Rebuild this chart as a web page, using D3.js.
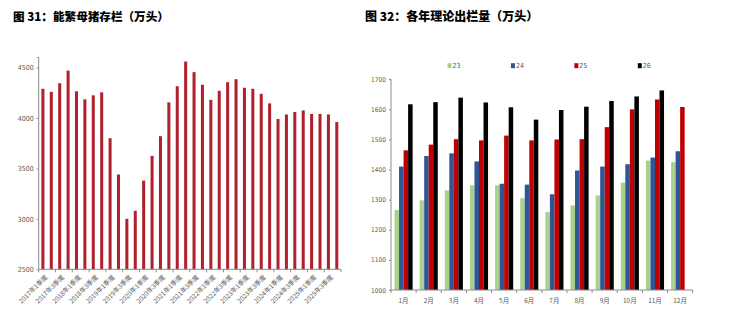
<!DOCTYPE html>
<html><head><meta charset="utf-8">
<script src="https://cdn.jsdelivr.net/npm/d3@7"></script>
<style>body{margin:0;background:#fff}svg{display:block}</style>
</head><body>
<svg id="c" width="743" height="314"></svg>
<script>
// ---------- data: chart 31 ----------
const quarters = [];
[2017,2018,2019,2020,2021,2022,2023,2024,2025].forEach(y=>[1,2,3,4].forEach(q=>quarters.push(y+"年"+q+"季度")));
const sowStock = [4290,4260,4345,4470,4265,4185,4225,4255,3800,3440,3000,3080,3380,3625,3820,4155,4315,4560,
  4455,4330,4180,4270,4355,4385,4300,4290,4240,4145,3990,4035,4060,4075,4040,4040,4035,3960];
const leftTicks = [2500,3000,3500,4000,4500];

// ---------- data: chart 32 ----------
const months = ["1月","2月","3月","4月","5月","6月","7月","8月","9月","10月","11月","12月"];
const seriesNames = ["23","24","25","26"];
const s23 = [1266,1298,1331,1348,1348,1305,1259,1281,1314,1357,1430,1425];
const s24 = [1410,1445,1454,1427,1353,1350,1318,1397,1410,1418,1440,1461];
const s25 = [1464,1483,1501,1497,1513,1497,1500,1501,1541,1600,1633,1608];
const s26 = [1617,1624,1639,1623,1607,1566,1598,1609,1628,1643,1663,null];
const rightTicks = [1000,1100,1200,1300,1400,1500,1600,1700];
const colors = ["#A9D18E","#2F5597","#C00000","#000000"];

const svg = d3.select("#c");
const axisFont = "'Liberation Sans Narrow','DejaVu Sans Condensed','Liberation Sans',sans-serif";
const titleFont = "'Noto Sans CJK SC','Noto Sans',sans-serif";
const axisCol = "#8c8c8c", textCol = "#595959";

// titles
svg.append("text").attr("x",13).attr("y",21).text("图 31：能繁母猪存栏（万头）")
  .attr("font-family",titleFont).attr("font-weight",900).attr("font-size",11.6).attr("fill","#000");
svg.append("text").attr("x",365).attr("y",21).text("图 32：各年理论出栏量（万头）")
  .attr("font-family",titleFont).attr("font-weight",900).attr("font-size",12).attr("fill","#000");

// ---------- left chart ----------
const xL = d3.scaleBand().domain(quarters).range([38.7,341]).paddingInner(0.64).paddingOuter(0.32);
const yL = d3.scaleLinear().domain([2500,4600]).range([269.3,57.5]);
const gL = svg.append("g");
gL.selectAll("rect.b").data(sowStock).join("rect")
  .attr("x",(d,i)=>xL(quarters[i])).attr("width",xL.bandwidth())
  .attr("y",d=>yL(d)).attr("height",d=>yL(2500)-yL(d)).attr("fill","#B0212D");
// y axis
const yAxL = d3.axisLeft(yL).tickValues(leftTicks).tickSize(2).tickFormat(d3.format("d"));
const gyL = gL.append("g").attr("transform","translate(38.7,0)").call(yAxL);
gyL.select(".domain").attr("stroke",axisCol).attr("d","M-2,57.5H0V269.3");
gyL.selectAll(".tick line").attr("stroke",axisCol);
gyL.selectAll(".tick text").attr("font-family",axisFont).attr("font-size",7).attr("fill",textCol).attr("x",-5);
// x axis
const gxL = gL.append("g").attr("transform","translate(0,269.3)");
gxL.append("line").attr("x1",38.7).attr("x2",341).attr("stroke",axisCol);
const step = xL.step();
const bounds = d3.range(0,37,2).map(k=>38.7+k*step);
gxL.selectAll("line.t").data(bounds).join("line").attr("class","t")
  .attr("x1",d=>d).attr("x2",d=>d).attr("y1",0).attr("y2",3).attr("stroke",axisCol);
gxL.selectAll("text").data(quarters.filter((q,i)=>i%2===0)).join("text")
  .attr("transform",d=>`translate(${xL(d)+xL.bandwidth()/2+2},5) rotate(-45)`)
  .attr("text-anchor","end").attr("dy","0.7em")
  .attr("font-family",titleFont).attr("font-size",6.5).attr("fill",textCol).text(d=>d);

// ---------- right chart ----------
const x0 = d3.scaleBand().domain(months).range([391,692.7]).paddingInner(0.28).paddingOuter(0.14);
const x1 = d3.scaleBand().domain(seriesNames).range([0,x0.bandwidth()]);
const yR = d3.scaleLinear().domain([1000,1700]).range([290,79.3]);
const allSeries = [s23,s24,s25,s26];
const gR = svg.append("g");
const rows = [];
months.forEach((m,i)=>seriesNames.forEach((s,j)=>{ if(allSeries[j][i]!=null) rows.push({m,s,v:allSeries[j][i],c:colors[j]}); }));
gR.selectAll("rect").data(rows).join("rect")
  .attr("x",d=>x0(d.m)+x1(d.s)).attr("width",x1.bandwidth())
  .attr("y",d=>yR(d.v)).attr("height",d=>yR(1000)-yR(d.v)).attr("fill",d=>d.c);
const gyR = gR.append("g").attr("transform","translate(391,0)")
  .call(d3.axisLeft(yR).tickValues(rightTicks).tickSize(2).tickFormat(d3.format("d")));
gyR.select(".domain").attr("stroke",axisCol).attr("d","M-2,79.3H0V290");
gyR.selectAll(".tick line").attr("stroke",axisCol);
gyR.selectAll(".tick text").attr("font-family",axisFont).attr("font-size",6.5).attr("fill",textCol).attr("x",-5);
const gxR = gR.append("g").attr("transform","translate(0,290)");
gxR.append("line").attr("x1",391).attr("x2",692.7).attr("stroke",axisCol);
const stepR = x0.step();
gxR.selectAll("line.t").data(d3.range(0,13).map(k=>391+k*stepR)).join("line").attr("class","t")
  .attr("x1",d=>d).attr("x2",d=>d).attr("y1",0).attr("y2",3).attr("stroke",axisCol);
gxR.selectAll("text").data(months).join("text")
  .attr("x",d=>x0(d)+x0.bandwidth()/2).attr("y",13).attr("text-anchor","middle")
  .attr("font-family",titleFont).attr("font-size",6.5).attr("fill",textCol).text(d=>d);

// legend
const legX = d3.scalePoint().domain(seriesNames).range([449,639.3]);
const leg = gR.selectAll("g.leg").data(seriesNames).join("g").attr("class","leg")
  .attr("transform",d=>`translate(${legX(d)},65.7)`);
leg.append("rect").attr("x",-1.5).attr("y",-2.5).attr("width",4).attr("height",5).attr("fill",(d,i)=>colors[i]);
leg.append("text").attr("x",3.5).attr("dy","0.35em").attr("font-family",axisFont).attr("font-size",7)
  .attr("fill",textCol).text(d=>d);
</script>
</body></html>
